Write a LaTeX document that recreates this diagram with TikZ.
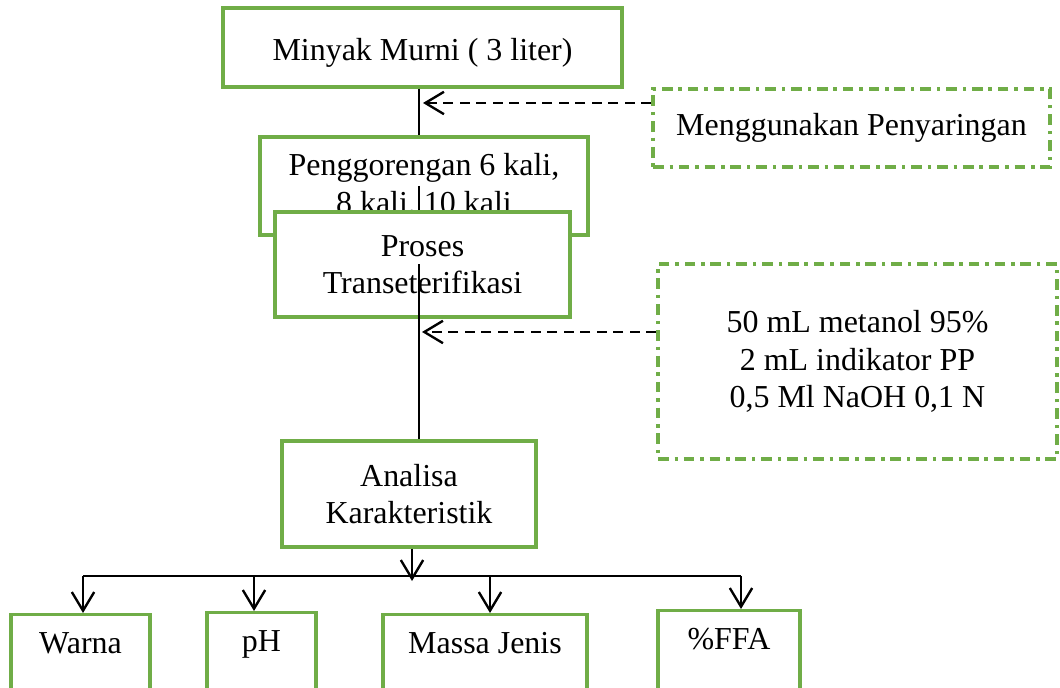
\documentclass[tikz,border=0pt]{standalone}
\usepackage{fontspec}
\setmainfont{Liberation Serif}
\usetikzlibrary{arrows.meta}
\newcommand{\Px}{0.3755pt}
\definecolor{boxgreen}{RGB}{112,173,71}
\tikzset{
  box/.style={draw=boxgreen,line width=1.3pt,fill=white,inner sep=0pt,align=center,font=\fontsize{12pt}{14pt}\selectfont},
  note/.style={box,line width=1.3pt,dash pattern=on 4pt off 2.2pt on 1.3pt off 2.2pt},
  leaf/.style={box,anchor=north,text height=14.5pt,text depth=15pt},
  barb/.style={-{Straight Barb[length=7pt,width=8.4pt,line width=0.9pt]}},
  feed/.style={barb,dash pattern=on 3.8pt off 2.4pt}
}

\begin{document}
\begin{tikzpicture}[x=\Px,y=-\Px,line width=0.9pt]
\path[use as bounding box,fill=white] (0,0) rectangle (1060,688);

\node[box,minimum width=399*\Px,minimum height=79*\Px,text height=11pt,text depth=1pt] (murni) at (422.5,47.5) {Minyak Murni ( 3 liter)};
\node[box,minimum width=328*\Px,minimum height=98*\Px] (goreng) at (424,186) {Penggorengan 6 kali,\\ 8 kali, 10 kali};
\node[box,minimum width=295*\Px,minimum height=105*\Px] (proses) at (422.5,264.5) {Proses\\ Transeterifikasi};
\node[box,minimum width=254*\Px,minimum height=106*\Px] (analisa) at (409,494) {Analisa\\ Karakteristik};

\node[note,minimum width=397*\Px,minimum height=78*\Px] (saring) at (851.5,128) {Menggunakan Penyaringan};
\node[note,minimum width=399*\Px,minimum height=195*\Px] (reagen) at (857.5,361.5) {50 mL metanol 95\%\\ 2 mL indikator PP\\ 0,5 Ml NaOH 0,1 N};

\node[leaf,minimum width=139*\Px] (warna) at (80.5,613) {Warna};
\node[leaf,minimum width=109*\Px] (ph) at (261.5,611) {pH};
\node[leaf,minimum width=204*\Px] (massa) at (485,613) {Massa Jenis};
\node[leaf,minimum width=142*\Px] (ffa) at (729,609) {\%FFA};

\coordinate (ax) at (419,0);
\coordinate (tip1) at (423,103);
\coordinate (tip2) at (422,332);
\coordinate (hub) at (412,581);
\coordinate (aW) at (83,576);
\coordinate (aP) at (254,576);
\coordinate (aM) at (490,576);
\coordinate (aF) at (741,576);

\path
(murni.south -| ax) edge (goreng.north -| ax)
(goreng -| ax) edge (proses.north -| ax)
(proses -| ax) edge (analisa.north -| ax)
;

\path
(saring.west |- tip1) edge [feed] (tip1)
(reagen.west |- tip2) edge [feed] (tip2)
;

\path [barb]
(analisa.south -| hub) edge (hub)
(aW) edge (aW |- warna.north)
(aP) edge (aP |- ph.north)
(aM) edge (aM |- massa.north)
(aF) edge (aF |- ffa.north)
;

\draw [line width=0.7pt] (aW) -- (aF);
\end{tikzpicture}
\end{document}
